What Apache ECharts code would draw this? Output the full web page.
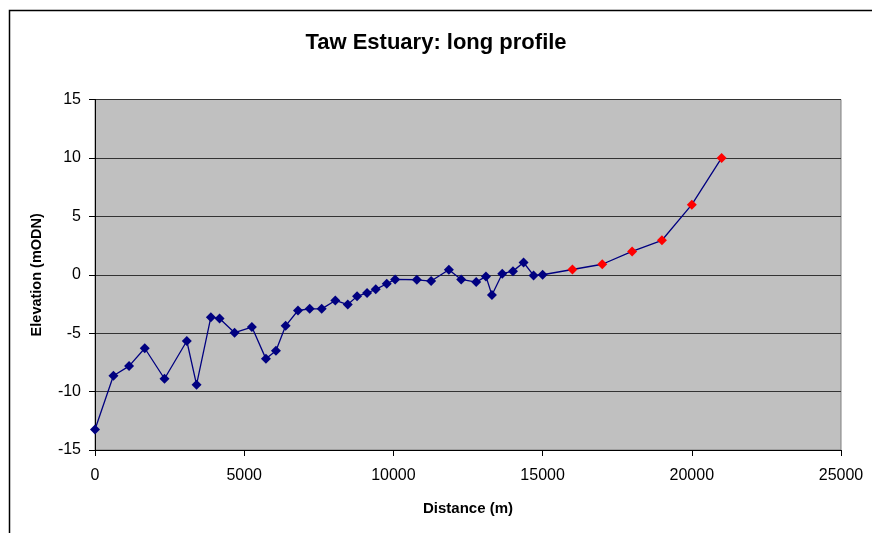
<!DOCTYPE html>
<html>
<head>
<meta charset="utf-8">
<script src="https://cdn.jsdelivr.net/npm/echarts@6/dist/echarts.min.js"></script>
<style>
  html, body { margin: 0; padding: 0; background: #fff; }
  #chart { width: 872px; height: 533px; }
</style>
</head>
<body>
<div id="chart"></div>
<script>
// Surveyed points (navy)
const surveyDistance = [0, 617, 1141, 1668, 2329, 3077, 3403, 3883, 4174, 4678, 5258, 5728, 6064, 6389, 6802, 7195, 7597, 8054, 8470, 8782, 9117, 9409, 9778, 10057, 10785, 11265, 11859, 12272, 12775, 13101, 13302, 13648, 14007, 14362, 14698, 15000]
const surveyElevation = [-13.24, -8.65, -7.82, -6.29, -8.9, -5.67, -9.41, -3.63, -3.74, -4.96, -4.48, -7.2, -6.5, -4.37, -3.06, -2.92, -2.92, -2.2, -2.55, -1.85, -1.56, -1.25, -0.77, -0.4, -0.43, -0.54, 0.43, -0.4, -0.63, -0.14, -1.73, 0.09, 0.31, 1.05, -0.06, 0]

// Upper reach points (red)
const upperDistance = [16000, 17000, 18000, 19000, 20000, 21000]
const upperElevation = [0.45, 0.9, 2.0, 2.95, 6.0, 10.0]

const xTicks = [0, 25000, 5000]   // min, max, interval
const yTicks = [-15, 15, 5]

const font = '"Liberation Sans", Arial, sans-serif'

const chart = echarts.init(document.getElementById('chart'))

const lineData = surveyDistance.map((d, i) => [d, surveyElevation[i]])
  .concat(upperDistance.map((d, i) => ({
    value: [d, upperElevation[i]],
    itemStyle: { color: '#FF0000' }
  })))

const option = {
  animation: false,
  backgroundColor: '#ffffff',
  title: {
    text: 'Taw Estuary: long profile',
    left: 'center',
    top: 27,
    textStyle: { fontFamily: font, fontSize: 22, fontWeight: 'bold', color: '#000' }
  },
  graphic: [
    {
      type: 'rect',
      left: 7,
      top: 8,
      shape: { width: 900, height: 600 },
      style: { fill: 'none', stroke: '#000', lineWidth: 1.5 },
      silent: true
    }
  ],
  grid: {
    left: 95,
    top: 99.5,
    right: 31,
    bottom: 83,
    show: true,
    backgroundColor: '#C0C0C0',
    borderColor: '#808080',
    borderWidth: 1
  },
  xAxis: {
    type: 'value',
    min: xTicks[0],
    max: xTicks[1],
    interval: xTicks[2],
    name: 'Distance (m)',
    nameLocation: 'middle',
    nameGap: 51,
    nameTextStyle: { fontFamily: font, fontSize: 15, fontWeight: 'bold', color: '#000' },
    axisLine: { onZero: false, lineStyle: { color: '#000', width: 1 } },
    axisTick: { show: true, length: 6, lineStyle: { color: '#000' } },
    axisLabel: { margin: 18, fontFamily: font, fontSize: 16, color: '#000', formatter: v => String(v) },
    splitLine: { show: false }
  },
  yAxis: {
    type: 'value',
    min: yTicks[0],
    max: yTicks[1],
    interval: yTicks[2],
    name: 'Elevation (mODN)',
    nameLocation: 'middle',
    nameGap: 51,
    nameTextStyle: { fontFamily: font, fontSize: 14.5, fontWeight: 'bold', color: '#000' },
    axisLine: { show: true, onZero: false, lineStyle: { color: '#000', width: 1 } },
    axisTick: { show: true, length: 6, lineStyle: { color: '#000' } },
    axisLabel: { margin: 14, fontFamily: font, fontSize: 16, color: '#000' },
    splitLine: { show: true, lineStyle: { color: '#333333', width: 1 } }
  },
  series: [
    {
      type: 'line',
      data: lineData,
      symbol: 'diamond',
      symbolSize: 10,
      showAllSymbol: true,
      lineStyle: { color: '#000080', width: 1.3 },
      itemStyle: { color: '#000080' }
    }
  ]
}

chart.setOption(option)
</script>
</body>
</html>
